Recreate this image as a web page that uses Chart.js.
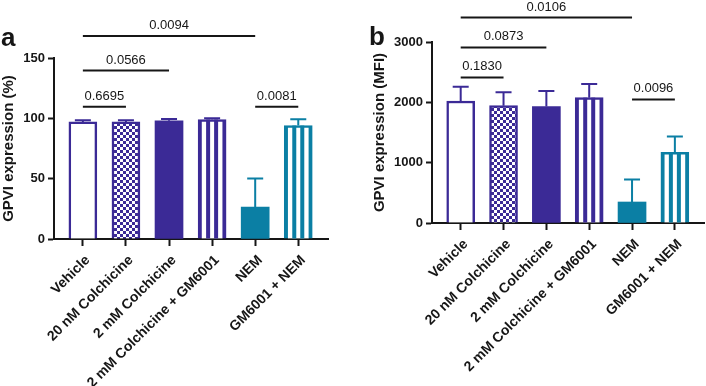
<!DOCTYPE html>
<html>
<head>
<meta charset="utf-8">
<script src="https://cdn.jsdelivr.net/npm/chart.js@4/dist/chart.umd.min.js"></script>
<style>
  html, body { margin: 0; padding: 0; background: #ffffff; }
  #wrap { position: relative; width: 706px; height: 386px; background: #fff; }
  canvas { position: absolute; top: 0; }
  #ca { left: 0; }
  #cb { left: 353px; }
</style>
</head>
<body>
<div id="wrap">
  <canvas id="ca" width="353" height="386"></canvas>
  <canvas id="cb" width="353" height="386"></canvas>
</div>
<script>
// ---- data ----
const categories = ["Vehicle", "20 nM Colchicine", "2 mM Colchicine", "2 mM Colchicine + GM6001", "NEM", "GM6001 + NEM"];

const meanA = [97, 97, 98, 99, 26.5, 94];
const sdA   = [1.5, 1.5, 1.5, 1, 23.7, 5.3];
const yTicksA = [0, 50, 100, 150];
const bracketsA = [
  { from: 0, to: 1, y: 109.5, label: "0.6695" },
  { from: 0, to: 2, y: 139.6, label: "0.0566" },
  { from: 0, to: 4, y: 168.3, label: "0.0094" },
  { from: 4, to: 5, y: 109.5, label: "0.0081" }
];

const meanB = [2022, 1945, 1930, 2078, 348, 1170];
const sdB   = [236, 222, 258, 226, 375, 265];
const yTicksB = [0, 1000, 2000, 3000];
const bracketsB = [
  { from: 0, to: 1, y: 2412, label: "0.1830" },
  { from: 0, to: 2, y: 2909, label: "0.0873" },
  { from: 0, to: 4, y: 3406, label: "0.0106" },
  { from: 4, to: 5, y: 2048, label: "0.0096" }
];

// ---- styles ----
const PURPLE = "#3b2a96";
const TEAL = "#0b7fa4";
const INK = "#161616";
const FONT = "'Liberation Sans', Arial, Helvetica, sans-serif";
const barStyles = ["open", "check", "solid", "stripe", "solid", "stripe"];
const barColors = [PURPLE, PURPLE, PURPLE, PURPLE, TEAL, TEAL];

function checkPattern(color) {
  const c = document.createElement("canvas");
  c.width = 6; c.height = 6;
  const g = c.getContext("2d");
  g.fillStyle = "#ffffff"; g.fillRect(0, 0, 6, 6);
  g.fillStyle = color;
  g.fillRect(0, 0, 3, 3);
  g.fillRect(3, 3, 3, 3);
  return g.createPattern(c, "repeat");
}

function bgFor(i) {
  const s = barStyles[i];
  if (s === "solid") return barColors[i];
  if (s === "check") return checkPattern(barColors[i]);
  return "#ffffff";
}
function bwFor(i) {
  const s = barStyles[i];
  if (s === "stripe") return { top: 2.5, left: 4, right: 4, bottom: 0 };
  if (s === "solid") return 0;
  return { top: 2.5, left: 2.5, right: 2.5, bottom: 0 };
}

const overlayPlugin = {
  id: "overlay",
  afterDatasetsDraw(chart, args, opts) {
    const ctx = chart.ctx;
    const xs = chart.scales.x, ys = chart.scales.y;
    const meta = chart.getDatasetMeta(0);
    ctx.save();
    // stripes inside striped bars
    meta.data.forEach((bar, i) => {
      if (barStyles[i] !== "stripe") return;
      const p = bar.getProps(["x", "y", "base", "width"], true);
      const left = p.x - p.width / 2;
      const seg = p.width / 7;
      ctx.fillStyle = barColors[i];
      for (let k = 2; k <= 4; k += 2) {
        ctx.fillRect(left + k * seg, p.y, seg, p.base - p.y);
      }
    });
    // error bars (upper)
    ctx.lineWidth = 2;
    meta.data.forEach((bar, i) => {
      const p = bar.getProps(["x"], true);
      const y0 = ys.getPixelForValue(opts.means[i]);
      const y1 = ys.getPixelForValue(opts.means[i] + opts.sds[i]);
      ctx.strokeStyle = barColors[i];
      ctx.beginPath();
      ctx.moveTo(p.x, y0); ctx.lineTo(p.x, y1);
      ctx.moveTo(p.x - 8, y1); ctx.lineTo(p.x + 8, y1);
      ctx.stroke();
    });
    // significance brackets
    ctx.strokeStyle = INK;
    ctx.fillStyle = INK;
    ctx.lineWidth = 2;
    ctx.font = "13px " + FONT;
    ctx.textAlign = "center";
    ctx.textBaseline = "alphabetic";
    opts.brackets.forEach(b => {
      const x0 = xs.getPixelForValue(b.from), x1 = xs.getPixelForValue(b.to);
      const y = ys.getPixelForValue(b.y);
      ctx.beginPath();
      ctx.moveTo(x0, y); ctx.lineTo(x1, y);
      ctx.stroke();
      ctx.fillText(b.label, (x0 + x1) / 2, y - 7);
    });
    // panel letter
    ctx.font = "bold 26px " + FONT;
    ctx.textAlign = "left";
    ctx.fillText(opts.letter, opts.letterX, opts.letterY);
    ctx.restore();
  }
};

function makeChart(id, cfg) {
  return new Chart(document.getElementById(id), {
    type: "bar",
    data: {
      datasets: [{
        data: categories.map((c, i) => ({ x: i, y: cfg.means[i] })),
        backgroundColor: categories.map((c, i) => bgFor(i)),
        borderColor: barColors,
        borderWidth: categories.map((c, i) => bwFor(i)),
        borderSkipped: false,
        barThickness: 28
      }]
    },
    plugins: [overlayPlugin],
    options: {
      responsive: false,
      animation: false,
      devicePixelRatio: 1,
      layout: { padding: cfg.padding },
      plugins: {
        legend: { display: false },
        tooltip: { enabled: false },
        overlay: { means: cfg.means, sds: cfg.sds, brackets: cfg.brackets, letter: cfg.letter, letterX: cfg.letterX, letterY: cfg.letterY }
      },
      scales: {
        x: {
          type: "linear",
          offset: false,
          min: cfg.xmin, max: cfg.xmax,
          afterBuildTicks: s => { s.ticks = categories.map((c, i) => ({ value: i })); },
          afterFit: s => { s.height = cfg.xHeight; },
          grid: { display: true, offset: false, drawOnChartArea: false, drawTicks: true, tickLength: 7, tickWidth: 2, tickColor: INK },
          border: { display: true, color: INK, width: 2 },
          ticks: {
            autoSkip: false, maxRotation: 45, minRotation: 45, padding: 6, labelOffset: 5,
            color: INK,
            font: { family: FONT, size: 14, weight: "bold" },
            callback: v => categories[v]
          }
        },
        y: {
          min: 0, max: cfg.ymax,
          afterBuildTicks: s => { s.ticks = cfg.yTicks.map(v => ({ value: v })); },
          afterFit: s => { s.width = cfg.yWidth; },
          grid: { display: true, drawOnChartArea: false, drawTicks: true, tickLength: 6, tickWidth: 2, tickColor: INK },
          border: { display: true, color: INK, width: 2 },
          ticks: { padding: 3, color: INK, font: { family: FONT, size: 13, weight: "bold" }, callback: v => String(v) },
          title: { display: true, text: cfg.yTitle, color: INK, padding: { top: cfg.titlePad, bottom: 0 }, font: { family: FONT, size: 15, weight: "bold" } }
        }
      }
    }
  });
}

makeChart("ca", {
  means: meanA, sds: sdA, brackets: bracketsA, yTicks: yTicksA, ymax: 150,
  yTitle: "GPVI expression (%)", titlePad: 0,
  padding: { left: 0, top: 58, right: 25, bottom: 0 },
  yWidth: 54, xHeight: 147, xmin: -0.67, xmax: 5.69,
  letter: "a", letterX: 1, letterY: 46
});
makeChart("cb", {
  means: meanB, sds: sdB, brackets: bracketsB, yTicks: yTicksB, ymax: 3000,
  yTitle: "GPVI expression (MFI)", titlePad: 18,
  padding: { left: 0, top: 42, right: 2, bottom: 0 },
  yWidth: 79, xHeight: 163, xmin: -0.67, xmax: 5.68,
  letter: "b", letterX: 16, letterY: 45
});
</script>
</body>
</html>
